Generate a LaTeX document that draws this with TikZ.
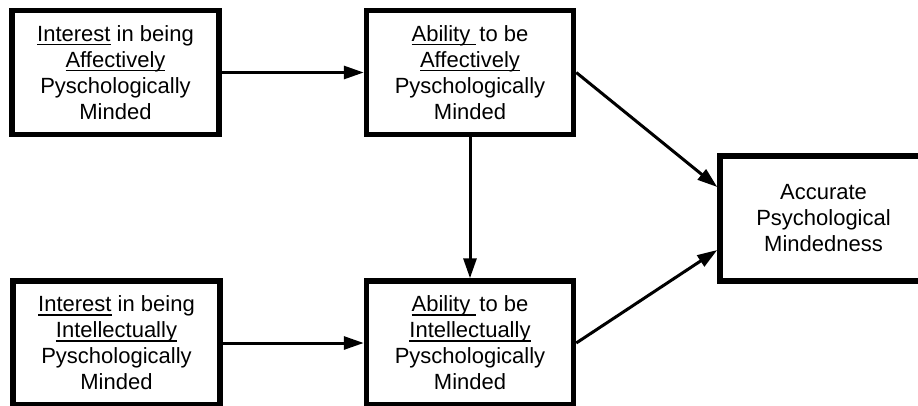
\documentclass[tikz,border=0pt]{standalone}
\usepackage{fontspec}
\setmainfont{Liberation Sans}
\usetikzlibrary{arrows.meta}
% underline at a fixed depth below the baseline
\newcommand\ulword[1]{\leavevmode\setbox0\hbox{#1}\rlap{\vrule width\wd0 height -2.2pt depth 3.8pt}\box0\relax}
\begin{document}
\begin{tikzpicture}[x=1pt,y=1pt,
  box/.style={draw, line width=5.5pt, inner sep=0pt, minimum width=207pt,
    minimum height=124pt, align=center,
    font=\fontsize{22pt}{26pt}\selectfont},
  link/.style={line width=3pt, -{Triangle[length=20pt,width=13pt]}}]
\useasboundingbox (0,0) rectangle (918,-405);
\clip (0,0) rectangle (918,-405);

\node[box] (ia) at (115.5,-72.5)
  {\ulword{Interest} in being\\\ulword{Affectively}\\Pyschologically\\Minded};
\node[box] (aa) at (470,-72.5)
  {\ulword{Ability\ }\hspace{3pt}to be\\\ulword{Affectively}\\Pyschologically\\Minded};
\node[box] (ii) at (116.5,-343)
  {\ulword{Interest} in being\\\ulword{Intellectually}\\Pyschologically\\Minded};
\node[box] (ai) at (470,-343)
  {\ulword{Ability\ }\hspace{3pt}to be\\\ulword{Intellectually}\\Pyschologically\\Minded};
\node[box, minimum height=125pt] (apm) at (823.5,-218.5)
  {Accurate\\Psychological\\Mindedness};

\draw[link] (ia) -- (aa);
\draw[link] (ii) -- (ai);
\draw[link] (aa) -- (ai);
\draw[link] (aa.east) -- ([yshift=31.5pt]apm.west);
\draw[link] (ai.east) -- ([yshift=-31.5pt]apm.west);
\end{tikzpicture}
\end{document}
